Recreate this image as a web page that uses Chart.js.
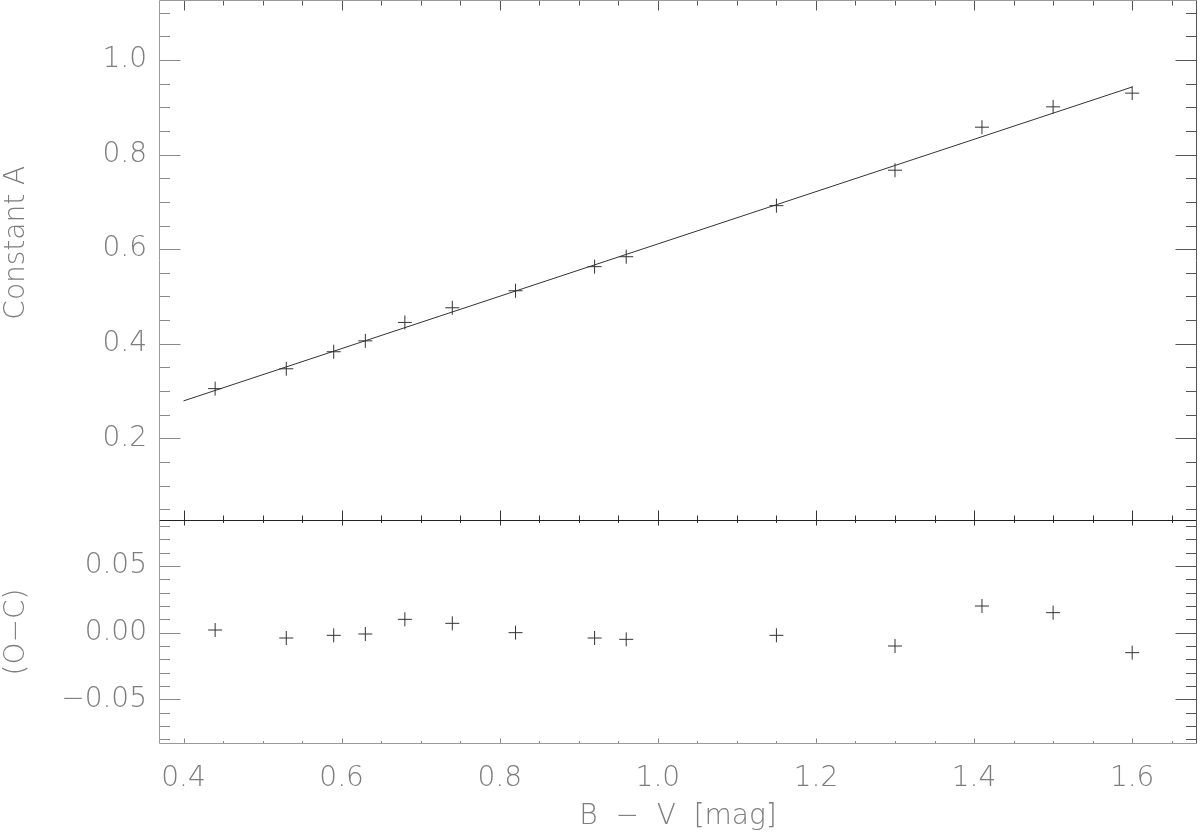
<!DOCTYPE html>
<html>
<head>
<meta charset="utf-8">
<script src="https://cdn.jsdelivr.net/npm/chart.js@4/dist/chart.umd.min.js"></script>
<style>
  body { margin: 0; background: #fff; }
  #wrap { position: relative; width: 1200px; height: 838px; }
  #topBox { position: absolute; left: 0; top: 0; width: 1200px; height: 522px; }
  #botBox { position: absolute; left: 0; top: 519px; width: 1200px; height: 319px; }
</style>
</head>
<body>
<div id="wrap">
  <div id="topBox"><canvas id="chartTop"></canvas></div>
  <div id="botBox"><canvas id="chartBot"></canvas></div>
</div>
<script>
// colour index B-V of each star
const bvColour = [0.44, 0.53, 0.59, 0.63, 0.68, 0.74, 0.82, 0.92, 0.96, 1.15, 1.30, 1.41, 1.50, 1.60];
// measured constant A
const constA = [0.305, 0.347, 0.383, 0.406, 0.445, 0.476, 0.512, 0.563, 0.584, 0.692, 0.767, 0.858, 0.901, 0.930];
// residuals (O-C) from the linear fit
const residOC = [0.002, -0.004, -0.002, -0.001, 0.010, 0.007, 0.000, -0.004, -0.005, -0.002, -0.010, 0.020, 0.015, -0.015];
// end points of the fitted line
const fitX = [0.40, 1.60];
const fitY = [0.279, 0.943];

// tick labels
const xTicks = [0.4, 0.6, 0.8, 1.0, 1.2, 1.4, 1.6];
const yTicksTop = [0.2, 0.4, 0.6, 0.8, 1.0];
const yTicksBot = [-0.05, 0.0, 0.05];

const ink = '#333333';
const grey = '#7d7d7d';
const fontFam = "'DejaVu Sans', sans-serif";

function pairs(xs, ys) {
  return xs.map((v, i) => ({ x: v, y: ys[i] }));
}

function fmtSigned(v, d) {
  if (v < -1e-9) return '\u2212' + Math.abs(v).toFixed(d);
  return Math.abs(v).toFixed(d);
}

// IDL style frame: box with inward ticks on all four sides
const idlFrame = {
  id: 'idlFrame',
  afterDatasetsDraw(chart, args, o) {
    const { ctx, chartArea: a, scales: { x, y } } = chart;
    ctx.save();
    ctx.lineWidth = 1;

    const L = Math.round(a.left) + 0.5, R = Math.round(a.right) - 0.5;
    const T = Math.round(a.top) + 0.5, B = Math.round(a.bottom) - 0.5;

    function line(x1, y1, x2, y2, c) {
      ctx.strokeStyle = c;
      ctx.beginPath();
      ctx.moveTo(x1, y1);
      ctx.lineTo(x2, y2);
      ctx.stroke();
    }

    // x ticks, top and bottom
    const xs = o.xMinor;
    for (let k = Math.ceil(x.min / xs - 1e-6); k * xs <= x.max + 1e-9; k++) {
      const v = k * xs;
      const major = Math.abs(v / o.xMajor - Math.round(v / o.xMajor)) < 1e-6;
      const px = Math.round(x.getPixelForValue(v)) + 0.5;
      const len = major ? o.xLen : o.xLen / 2;
      line(px, B, px, B - len, o.bottomTickCol);
      line(px, T, px, T + len, o.topTickCol);
    }

    // y ticks, left and right
    const ys = o.yMinor;
    for (let k = Math.ceil(y.min / ys - 1e-6); k * ys <= y.max + 1e-9; k++) {
      const v = k * ys;
      const major = Math.abs(v / o.yMajor - Math.round(v / o.yMajor)) < 1e-6;
      const py = Math.round(y.getPixelForValue(v)) + 0.5;
      const len = major ? o.yLen : o.yLen / 2;
      line(L, py, L + len, py, '#8a8a8a');
      line(R, py, R - len, py, '#555555');
    }

    // frame
    line(L, T, R, T, o.topCol);
    line(R, T, R, B, '#555555');
    line(L, B, R, B, o.bottomCol);
    line(L, T, L, B, '#9a9a9a');
    ctx.restore();
  }
};

// no automatic label overflow padding; the frame is placed by hand
function noPad(scale) {
  scale.paddingTop = 0;
  scale.paddingBottom = 0;
  scale.paddingLeft = 0;
  scale.paddingRight = 0;
}

function fixWidth(w) {
  return function (scale) { scale.width = w; noPad(scale); };
}

// upper panel: constant A against B-V
new Chart(document.getElementById('chartTop'), {
  type: 'scatter',
  data: {
    datasets: [{
      type: 'scatter',
      data: pairs(bvColour, constA),
      pointStyle: 'cross',
      pointRadius: 7,
      pointHoverRadius: 7,
      borderColor: ink,
      borderWidth: 1
    }, {
      type: 'line',
      data: pairs(fitX, fitY),
      borderColor: ink,
      borderWidth: 1,
      pointRadius: 0,
      fill: false
    }]
  },
  options: {
    responsive: true,
    maintainAspectRatio: false,
    animation: false,
    events: [],
    layout: { autoPadding: false, padding: { top: 0, right: 3, bottom: 1, left: 0 } },
    plugins: {
      legend: { display: false },
      tooltip: { enabled: false },
      idlFrame: {
        xMinor: 0.05, xMajor: 0.2, xLen: 10,
        yMinor: 0.05, yMajor: 0.2, yLen: 21,
        topCol: '#9a9a9a', bottomCol: '#222222',
        topTickCol: '#555555', bottomTickCol: '#333333'
      }
    },
    scales: {
      x: {
        type: 'linear', min: 0.369, max: 1.682,
        display: false,
        afterFit: noPad
      },
      y: {
        type: 'linear', min: 0.025, max: 1.127,
        afterFit: fixWidth(159),
        afterBuildTicks: s => { s.ticks = yTicksTop.map(v => ({ value: v })); },
        border: { display: false },
        grid: { display: false, drawTicks: false },
        ticks: {
          padding: 12, color: grey,
          font: { family: fontFam, size: 28, weight: 200 },
          callback: v => v.toFixed(1)
        },
        title: {
          display: true, text: '    Constant A', color: grey,
          font: { family: fontFam, size: 28, weight: 200 },
          padding: { top: 0, bottom: 2 }
        }
      }
    }
  },
  plugins: [idlFrame]
});

// lower panel: residuals
new Chart(document.getElementById('chartBot'), {
  type: 'scatter',
  data: {
    datasets: [{
      data: pairs(bvColour, residOC),
      pointStyle: 'cross',
      pointRadius: 7,
      pointHoverRadius: 7,
      borderColor: ink,
      borderWidth: 1
    }]
  },
  options: {
    responsive: true,
    maintainAspectRatio: false,
    animation: false,
    events: [],
    layout: { autoPadding: false, padding: { top: 1, right: 3, bottom: 0, left: 0 } },
    plugins: {
      legend: { display: false },
      tooltip: { enabled: false },
      idlFrame: {
        xMinor: 0.05, xMajor: 0.2, xLen: 5,
        yMinor: 0.01, yMajor: 0.05, yLen: 21,
        topCol: '#222222', bottomCol: '#9a9a9a',
        topTickCol: '#333333', bottomTickCol: '#8a8a8a'
      }
    },
    scales: {
      x: {
        type: 'linear', min: 0.369, max: 1.682,
        afterFit: s => { s.height = 94; noPad(s); },
        afterBuildTicks: s => { s.ticks = xTicks.map(v => ({ value: v })); },
        border: { display: false },
        grid: { display: false, drawTicks: false },
        ticks: {
          padding: 18, color: grey, maxRotation: 0,
          font: { family: fontFam, size: 28, weight: 200 },
          callback: v => v.toFixed(1)
        },
        title: {
          display: true, text: 'B  \u2212  V  [mag]', color: grey,
          font: { family: fontFam, size: 28, weight: 200 },
          padding: { top: 0, bottom: 4 }
        }
      },
      y: {
        type: 'linear', min: -0.0835, max: 0.0845,
        afterFit: fixWidth(159),
        afterBuildTicks: s => { s.ticks = yTicksBot.map(v => ({ value: v })); },
        border: { display: false },
        grid: { display: false, drawTicks: false },
        ticks: {
          padding: 12, color: grey,
          font: { family: fontFam, size: 28, weight: 200 },
          callback: v => fmtSigned(v, 2)
        },
        title: {
          display: true, text: '(O\u2212C)', color: grey,
          font: { family: fontFam, size: 28, weight: 200 },
          padding: { top: 0, bottom: 2 }
        }
      }
    }
  },
  plugins: [idlFrame]
});
</script>
</body>
</html>
